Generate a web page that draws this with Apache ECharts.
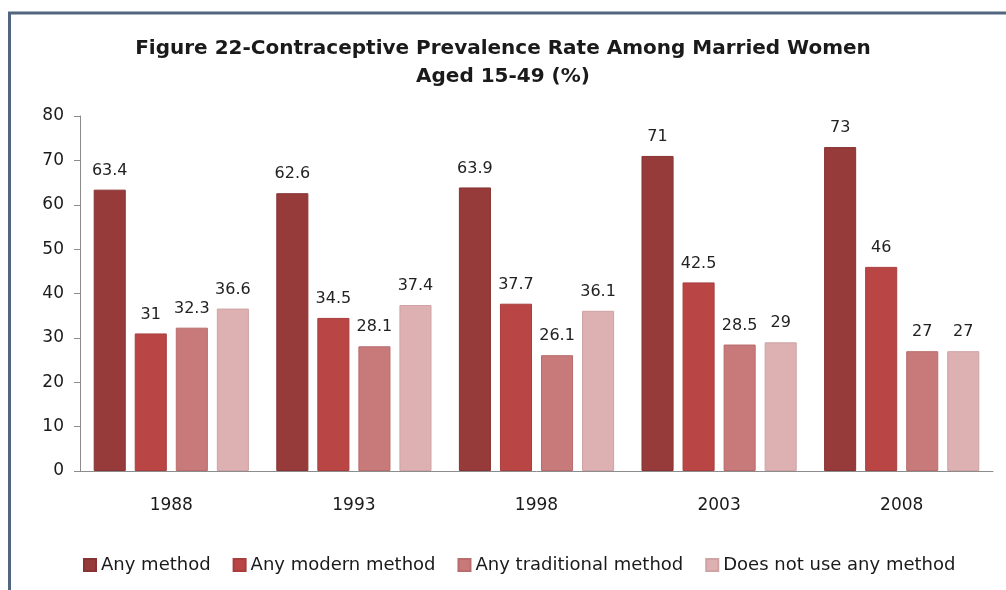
<!DOCTYPE html>
<html>
<head>
<meta charset="utf-8">
<script src="https://cdn.jsdelivr.net/npm/echarts@6/dist/echarts.min.js"></script>
<style>
  html, body { margin: 0; padding: 0; background: #ffffff; }
  #chart { width: 1006px; height: 590px; }
</style>
</head>
<body>
<div id="chart"></div>
<script>
// Survey years on the category axis
const years = ['1988', '1993', '1998', '2003', '2008'];

// Contraceptive prevalence (%) by method group
const anyMethod = [63.4, 62.6, 63.9, 71, 73];
const anyModern = [31, 34.5, 37.7, 42.5, 46];
const anyTraditional = [32.3, 28.1, 26.1, 28.5, 27];
const noMethod = [36.6, 37.4, 36.1, 29, 27];

const seriesNames = ['Any method', 'Any modern method', 'Any traditional method', 'Does not use any method'];
const seriesColors = ['#963a3a', '#ba4545', '#c87979', '#ddb0b1'];
const seriesEdges = ['#873333', '#a83e3e', '#b86c6c', '#cfa2a3'];
const seriesData = [anyMethod, anyModern, anyTraditional, noMethod];

const yTicks = { min: 0, max: 80, interval: 10 };

const chart = echarts.init(document.getElementById('chart'), null, { renderer: 'canvas' });

const labelFont = 'DejaVu Sans, Verdana, sans-serif';

chart.setOption({
  animation: false,
  backgroundColor: '#ffffff',
  title: {
    text: 'Figure 22-Contraceptive Prevalence Rate Among Married Women\nAged 15-49 (%)',
    left: 'center',
    top: 30,
    textStyle: {
      fontFamily: labelFont,
      fontWeight: 'bold',
      fontSize: 20,
      lineHeight: 28,
      color: '#1a1a1a'
    }
  },
  legend: {
    bottom: 11,
    left: 78,
    itemWidth: 12,
    itemHeight: 12,
    itemGap: 22,
    icon: 'rect',
    textStyle: { fontFamily: labelFont, fontSize: 18, color: '#1a1a1a', padding: [0, 0, 0, 0] },
    data: seriesNames
  },
  grid: { left: 80, right: 13, top: 116, bottom: 119, containLabel: false },
  xAxis: {
    type: 'category',
    data: years,
    axisLine: { lineStyle: { color: '#8c8c8c', width: 1 } },
    axisTick: { show: false },
    axisLabel: { fontFamily: labelFont, fontSize: 17, color: '#1a1a1a', margin: 26 }
  },
  yAxis: {
    type: 'value',
    min: yTicks.min,
    max: yTicks.max,
    interval: yTicks.interval,
    axisLine: { show: true, lineStyle: { color: '#8c8c8c', width: 1 } },
    axisTick: { show: true, length: 6, lineStyle: { color: '#8c8c8c' } },
    splitLine: { show: false },
    axisLabel: { fontFamily: labelFont, fontSize: 17, color: '#1a1a1a', margin: 16 }
  },
  graphic: [
    { type: 'line', shape: { x1: 8, y1: 13, x2: 1006, y2: 13 }, style: { stroke: '#52667f', lineWidth: 3 } },
    { type: 'line', shape: { x1: 9.5, y1: 12, x2: 9.5, y2: 590 }, style: { stroke: '#52667f', lineWidth: 3 } }
  ],
  series: seriesNames.map((name, i) => ({
    name: name,
    type: 'bar',
    data: seriesData[i],
    barGap: '28%',
    barCategoryGap: '15%',
    itemStyle: {
      color: seriesColors[i],
      borderColor: seriesEdges[i],
      borderWidth: 1
    },
    label: {
      show: true,
      position: 'top',
      distance: 11,
      fontFamily: labelFont,
      fontSize: 16,
      fontWeight: 500,
      color: '#222222'
    }
  }))
});
</script>
</body>
</html>
